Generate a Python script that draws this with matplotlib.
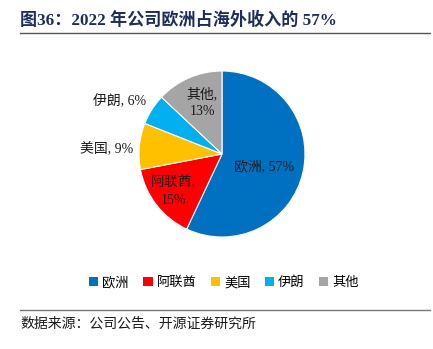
import matplotlib
matplotlib.use("Agg")
import matplotlib.pyplot as plt
from matplotlib.lines import Line2D
from matplotlib.patches import Patch

plt.rcParams['font.family'] = ['Liberation Serif', 'Noto Sans CJK SC', 'DejaVu Sans']

categories = ['欧洲', '阿联酋', '美国', '伊朗', '其他']
values = [57, 15, 9, 6, 13]
colors = ['#0070C0', '#FF0000', '#FFC000', '#00B0F0', '#A5A5A5']
label_texts = ['欧洲, 57%', '阿联酋,\n15%', '美国, 9%', '伊朗, 6%', '其他,\n13%']
label_pos = [(0.50, -0.17), (-0.59, -0.45), (-1.39, 0.06), (-1.23, 0.64), (-0.24, 0.62)]

W, H = 433, 349
fig = plt.figure(figsize=(W / 100, H / 100), dpi=100)

cx, cy, r = 222, 154, 83
ax = fig.add_axes([(cx - r) / W, 1 - (cy + r) / H, 2 * r / W, 2 * r / H])
ax.pie(values, colors=colors, startangle=90, counterclock=False,
       wedgeprops=dict(edgecolor='white', linewidth=0.8), radius=1)
ax.set_xlim(-1, 1)
ax.set_ylim(-1, 1)
ax.set_aspect('equal')
ax.axis('off')
for t, (x, y) in zip(label_texts, label_pos):
    ax.text(x, y, t, ha='center', va='center', fontsize=10, color='#1a1a1a',
            linespacing=1.45, clip_on=False)

# Title
fig.text(20 / W, 1 - 20 / H, '图36：2022 年公司欧洲占海外收入的 57%',
         fontsize=12.3, fontweight='bold', color='#1F2D5C', ha='left', va='center')
fig.add_artist(Line2D([20 / W, 430 / W], [1 - 33 / H, 1 - 33 / H],
                      color='#555555', linewidth=1.0))

# Legend
handles = [Patch(facecolor=c, edgecolor='none') for c in colors]
fig.legend(handles, categories, loc='center', bbox_to_anchor=(224 / W, 1 - 283 / H),
           ncol=5, frameon=False, fontsize=9.5, handlelength=0.7, handleheight=0.7,
           handletextpad=0.3, columnspacing=1.1)

# Source
fig.add_artist(Line2D([20 / W, 430 / W], [1 - 310 / H, 1 - 310 / H],
                      color='#777777', linewidth=1.0))
fig.text(20 / W, 1 - 324 / H, '数据来源：公司公告、开源证券研究所',
         fontsize=10, color='#1a1a1a', ha='left', va='center')

fig.savefig('out.png', dpi=100)
